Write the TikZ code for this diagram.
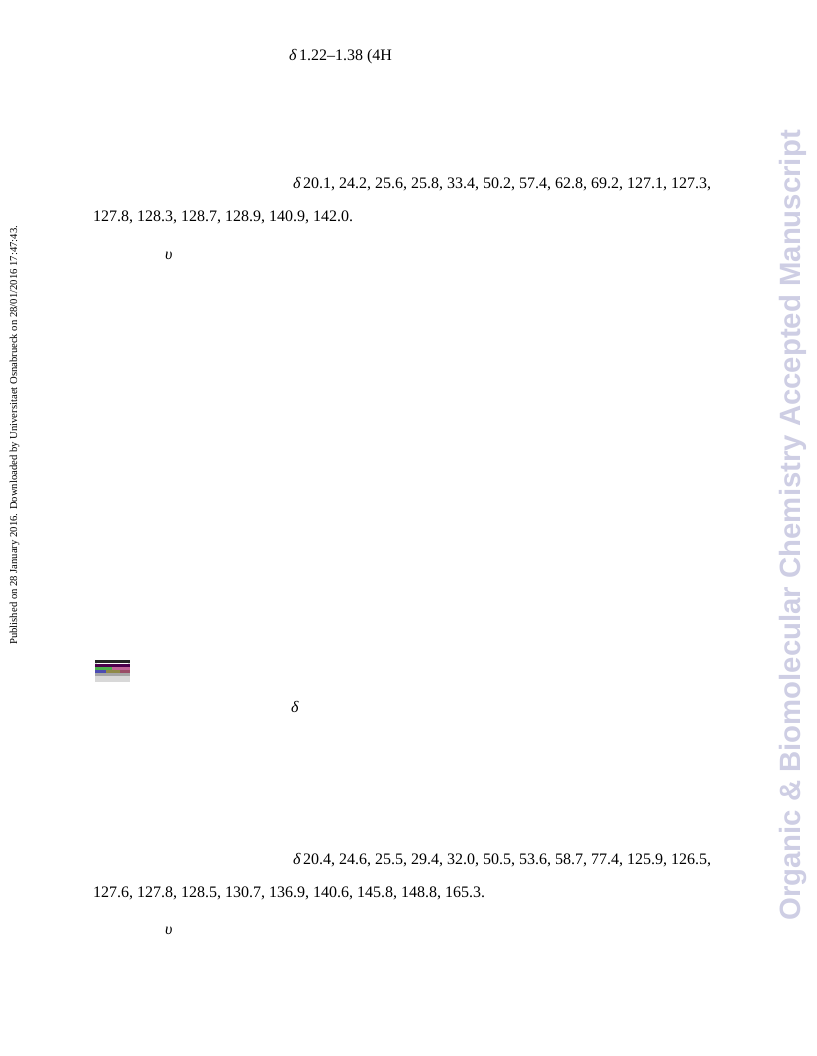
\documentclass[tikz,border=0pt]{standalone}
\usepackage{fontspec}
\setmainfont{Liberation Serif}
\newfontfamily\wmfont{Liberation Sans}
\definecolor{wmcol}{RGB}{206,206,228}
\definecolor{thumbgray}{RGB}{216,216,216}
\begin{document}
\begin{tikzpicture}[x=0.75bp,y=-0.75bp,
  body/.style={anchor=base west,inner sep=0pt,outer sep=0pt,font=\fontsize{12bp}{14bp}\selectfont},
  side/.style={anchor=base west,inner sep=0pt,rotate=90,font=\fontsize{8bp}{9bp}\selectfont},
  watermark/.style={anchor=base west,inner sep=0pt,rotate=90,text=wmcol,font=\wmfont\bfseries\fontsize{22bp}{24bp}\selectfont}]
\useasboundingbox[fill=white] (0,0) rectangle (816,1056);
% top block
\node[body] (t1) at (289,61) {{\itshape δ}\,1.22–1.38 (4H};
\node[body] (t2) at (293,189) {{\itshape δ}\,20.1, 24.2, 25.6, 25.8, 33.4, 50.2, 57.4, 62.8, 69.2, 127.1, 127.3,};
\node[body] (t3) at (93,222) {127.8, 128.3, 128.7, 128.9, 140.9, 142.0.};
\node[body] (t4) at (165,260) {{\itshape υ}};
% thumbnail
\fill[thumbgray] (95,660) rectangle (130,682);
\fill[black!85] (95,660) rectangle (130,663);
\fill[white] (97,663) rectangle (128,664);
\fill[violet!60!black] (95,664) rectangle (130,667);
\fill[green!40!gray] (95,667) rectangle (112,670);
\fill[magenta!50!gray] (112,667) rectangle (130,670);
\fill[blue!40!gray] (95,670) rectangle (106,673);
\fill[olive!50!gray] (106,670) rectangle (120,673);
\fill[purple!40!gray] (120,670) rectangle (130,673);
\fill[gray!70] (95,673) rectangle (130,676);
\coordinate (thumb) at (112,671);
% middle
\node[body] (m1) at (291,712) {{\itshape δ}};
% bottom block
\node[body] (b1) at (293,864) {{\itshape δ}\,20.4, 24.6, 25.5, 29.4, 32.0, 50.5, 53.6, 58.7, 77.4, 125.9, 126.5,};
\node[body] (b2) at (93,897) {127.6, 127.8, 128.5, 130.7, 136.9, 140.6, 145.8, 148.8, 165.3.};
\node[body] (b3) at (165,934) {{\itshape υ}};
% side texts
\node[side] (pub) at (17,645) {Published on 28 January 2016. Downloaded by Universitaet Osnabrueck on 28/01/2016 17:47:43.};
\node[watermark] (wm) at (800,921) {Organic \& Biomolecular Chemistry Accepted Manuscript};
\end{tikzpicture}
\end{document}
